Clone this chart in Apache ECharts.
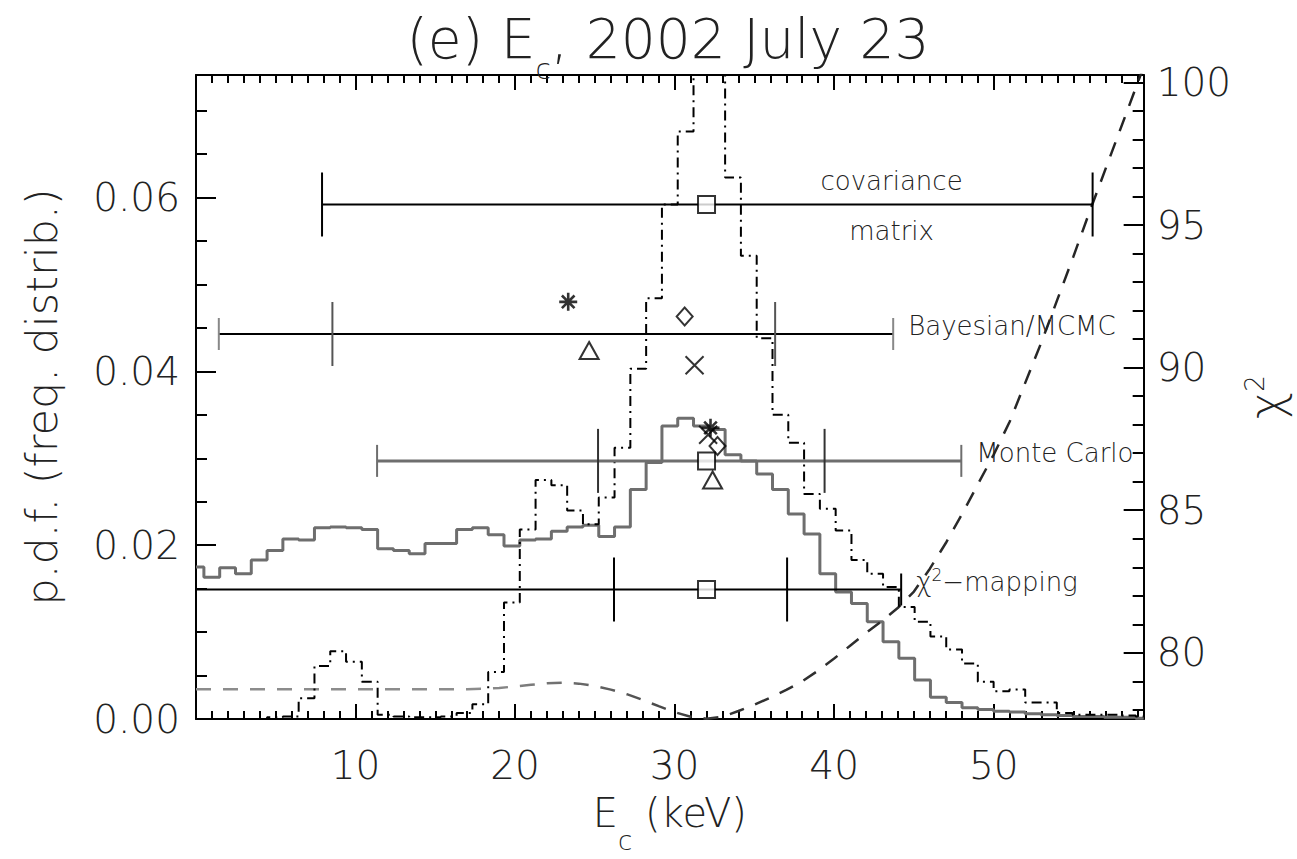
<!DOCTYPE html>
<html>
<head>
<meta charset="utf-8">
<title>E_c, 2002 July 23</title>
<script src="https://cdn.jsdelivr.net/npm/echarts@6/dist/echarts.min.js"></script>
<style>
  html, body { margin: 0; padding: 0; background: #fff; }
  #chart { width: 1297px; height: 859px; }
</style>
</head>
<body>
<div id="chart"></div>
<script>
// ---------------------------------------------------------------- data --

// Histogram bin width in keV; bin k is centred on k * BIN_WIDTH
const BIN_WIDTH = 0.99;

// Monte Carlo frequency distribution of E_c (gray solid histogram)
const mcPdf = [
  0.0175, 0.0163, 0.0174, 0.0167, 0.0183, 0.0194, 0.0207, 0.0206, 0.0220, 0.0221,
  0.0220, 0.0218, 0.0196, 0.0194, 0.0190, 0.0202, 0.0202, 0.0218, 0.0220, 0.0212,
  0.0199, 0.0206, 0.0207, 0.0216, 0.0221, 0.0223, 0.0210, 0.0221, 0.0264, 0.0295,
  0.0337, 0.0346, 0.0337, 0.0333, 0.0304, 0.0297, 0.0282, 0.0264, 0.0236, 0.0213,
  0.0167, 0.0146, 0.0133, 0.0112, 0.0089, 0.0070, 0.0045, 0.0025, 0.0019, 0.0013,
  0.0011, 0.0009, 0.0008, 0.0006, 0.0005, 0.0004, 0.0003, 0.0003, 0.0002, 0.0002,
  0.0001
];

// Bayesian / MCMC posterior of E_c (dash-dot histogram)
const mcmcPdf = [
  0, 0, 0, 0, 0, 0.0002, 0.0003, 0.0024, 0.0061, 0.0078,
  0.0066, 0.0043, 0.0005, 0.0003, 0.0002, 0.0002, 0.0003, 0.0007, 0.0017, 0.0054,
  0.0134, 0.0218, 0.0275, 0.0269, 0.0240, 0.0224, 0.0255, 0.0312, 0.0403, 0.0484,
  0.0592, 0.0676, 0.0830, 0.0790, 0.0623, 0.0533, 0.0438, 0.0350, 0.0318, 0.0259,
  0.0242, 0.0217, 0.0183, 0.0167, 0.0152, 0.0129, 0.0112, 0.0095, 0.0080, 0.0064,
  0.0043, 0.0032, 0.0034, 0.0019, 0.0019, 0.0007, 0.0005, 0.0005, 0.0005, 0.0004,
  0.0003
];

// chi^2 profile as a function of E_c (right axis)
const chi2Ec = [
  0, 17, 18, 19, 20, 21, 22, 23, 24, 25, 26, 27, 28, 29, 30, 31, 32, 33, 34, 35,
  36, 37, 38, 39, 40, 41, 42, 43, 44, 45, 46, 47, 48, 49, 50, 51, 52, 53, 54, 55,
  56, 57, 58, 59, 60
];
const chi2Val = [
  78.72, 78.72, 78.74, 78.77, 78.82, 78.88, 78.93, 78.95, 78.92, 78.84,
  78.71, 78.55, 78.35, 78.13, 77.92, 77.76, 77.69, 77.76, 77.96, 78.18,
  78.43, 78.70, 79.00, 79.38, 79.80, 80.25, 80.70, 81.12, 81.58, 82.15,
  82.95, 83.85, 84.85, 85.90, 86.95, 88.10, 89.50, 90.90, 92.40, 93.90,
  95.45, 96.95, 98.45, 99.95, 101.45
];

// Confidence intervals of E_c from the four methods
const barLabels = [['covariance', 'matrix'], 'Bayesian/MCMC', 'Monte Carlo', '{a|\u03c7}{b|2}{a|\u2212mapping}'];
const barY    = [0.0592, 0.0443, 0.0297, 0.0149];
const barBest = [32.0, null, 32.0, 32.0];
const barLo68 = [7.9, 8.55, 25.2, 26.2];
const barHi68 = [56.2, 36.3, 39.4, 37.05];
const barLo95 = [null, 1.43, 11.35, 0];
const barHi95 = [null, 43.7, 47.97, 44.2];

// Point estimates from the alternative fits
const starPts     = [[23.33, 0.0480], [32.25, 0.0335]];
const crossPts    = [[31.25, 0.0407], [32.10, 0.0327]];
const diamondPts  = [[30.63, 0.0463], [32.69, 0.0314]];
const trianglePts = [[24.64, 0.0424], [32.38, 0.0275]];

// Axis ranges and tick values
const X_MAX = 59.4;
const PDF_MAX = 0.0741;
const CHI2_MIN = 77.68, CHI2_MAX = 100.26;
const xMajorTicks = [10, 20, 30, 40, 50];
const pdfTicks = [0, 0.02, 0.04, 0.06];
const chi2Ticks = [80, 85, 90, 95, 100];

// ------------------------------------------------------------- styling --
const TEXT = '#222';
const FONT = '"DejaVu Sans", "Liberation Sans", sans-serif';
const WEIGHT = 200;

const xMinorTicks = [], pdfMinorTicks = [], chi2MinorTicks = [];
for (let v = 1; v < 60; v++) if (v % 10) xMinorTicks.push(v);
for (let k = 1; k * 0.005 < PDF_MAX; k++) if (k % 4) pdfMinorTicks.push(k * 0.005);
for (let v = 78; v <= 100; v++) if (v % 5) chi2MinorTicks.push(v);

const barStyle = [
  { line: '#000', width: 2, tick: '#000', cap: '#000' },
  { line: '#000', width: 2, tick: '#555', cap: '#888' },
  { line: '#6e6e6e', width: 3, tick: '#333', cap: '#6e6e6e' },
  { line: '#000', width: 2, tick: '#000', cap: '#000' }
];

const histPoints = vals => vals.map((v, k) => [k * BIN_WIDTH, v]);
const chi2Points = chi2Ec.map((x, i) => [x, chi2Val[i]]);

function axisFrame(type, position, ticks, len, showLine, extra) {
  const range = type === 'x'
    ? { min: 0, max: X_MAX }
    : (position === 'left' ? { min: 0, max: PDF_MAX } : { min: CHI2_MIN, max: CHI2_MAX });
  return Object.assign({
    type: 'value',
    position: position,
    gridIndex: 0,
    splitLine: { show: false },
    axisLine: { show: showLine, onZero: false, lineStyle: { color: '#000', width: 2 } },
    axisTick: { show: true, inside: true, length: len, customValues: ticks,
                lineStyle: { color: '#000', width: 2 } },
    axisLabel: { show: false },
    minorTick: { show: false }
  }, range, extra || {});
}

const font = (size, more) => Object.assign(
  { fontFamily: FONT, fontWeight: WEIGHT, color: TEXT, fontSize: size }, more || {});
const labelStyle = font(39);

const xAxis = [
  axisFrame('x', 'bottom', xMajorTicks, 15, true, {
    axisLabel: Object.assign({ show: true, customValues: xMajorTicks, margin: 27 }, labelStyle),
    name: '{m|E}{sub|c}{m| (keV)}',
    nameLocation: 'middle',
    nameGap: 74,
    nameTextStyle: font(40, {
      rich: {
        m: font(40, { lineHeight: 46, verticalAlign: 'top' }),
        sub: font(26, { lineHeight: 26, verticalAlign: 'top', padding: [35, 0, 0, 0] })
      }
    })
  }),
  axisFrame('x', 'top', xMajorTicks, 15, true),
  axisFrame('x', 'bottom', xMinorTicks, 8, false),
  axisFrame('x', 'top', xMinorTicks, 8, false)
];

const yAxis = [
  axisFrame('y', 'left', pdfTicks, 20, true, {
    axisLabel: Object.assign({ show: true, customValues: pdfTicks, margin: 16,
                               formatter: v => v.toFixed(2) }, labelStyle),
    name: 'p.d.f. (freq. distrib.)',
    nameLocation: 'middle',
    nameGap: 133,
    nameRotate: 90,
    nameTextStyle: font(43)
  }),
  axisFrame('y', 'right', chi2Ticks, 20, true, {
    axisLabel: Object.assign({ show: true, customValues: chi2Ticks, margin: 13,
                               formatter: v => String(Math.round(v)) }, labelStyle),
    name: '{a|\u03c7}{b|2}',
    nameLocation: 'middle',
    nameGap: 95,
    nameRotate: 90,
    nameTextStyle: font(44, {
      rich: {
        a: font(46, { lineHeight: 48 }),
        b: font(26, { lineHeight: 48, verticalAlign: 'top' })
      }
    })
  }),
  axisFrame('y', 'left', pdfMinorTicks, 11, false),
  axisFrame('y', 'right', chi2MinorTicks, 11, false)
];

// Horizontal interval bars with tall inner ticks and short outer caps
function errorBarItem(params, api) {
  const i = params.dataIndex;
  const y = barY[i];
  const st = barStyle[i];
  const ends = [barLo95[i], barLo68[i], barHi68[i], barHi95[i]].filter(v => v !== null);
  const xl = Math.min.apply(null, ends), xr = Math.max.apply(null, ends);
  const a = api.coord([xl, y]), b = api.coord([xr, y]);
  const kids = [{
    type: 'line', shape: { x1: a[0], y1: a[1], x2: b[0], y2: b[1] },
    style: { stroke: st.line, lineWidth: st.width }
  }];
  function tick(v, half, color) {
    if (v === null) return;
    const p = api.coord([v, y]);
    kids.push({ type: 'line', shape: { x1: p[0], y1: p[1] - half, x2: p[0], y2: p[1] + half },
                style: { stroke: color, lineWidth: 2 } });
  }
  tick(barLo95[i], 16, st.cap);
  tick(barHi95[i], 16, st.cap);
  tick(barLo68[i], 32, st.tick);
  tick(barHi68[i], 32, st.tick);

  const lab = barLabels[i];
  const baseFont = { fontFamily: FONT, fontWeight: WEIGHT, fontSize: 26, fill: TEXT };
  if (Array.isArray(lab)) {
    const m = api.coord([(barBest[i] + barHi68[i]) / 2, y]);
    kids.push({ type: 'text', x: m[0] - 8, y: m[1] - 23,
                style: Object.assign({ text: lab[0], align: 'center', verticalAlign: 'middle' }, baseFont) });
    kids.push({ type: 'text', x: m[0] - 8, y: m[1] + 27,
                style: Object.assign({ text: lab[1], align: 'center', verticalAlign: 'middle' }, baseFont) });
  } else {
    kids.push({
      type: 'text', x: b[0] + 15, y: b[1] - 8,
      style: Object.assign({
        text: lab, align: 'left', verticalAlign: 'middle',
        rich: {
          a: Object.assign({ lineHeight: 30 }, baseFont),
          b: Object.assign({}, baseFont, { fontSize: 17, lineHeight: 30, verticalAlign: 'top' })
        }
      }, baseFont)
    });
  }
  return { type: 'group', children: kids };
}

const openMarker = { color: 'rgba(255,255,255,0)', borderColor: '#000', borderWidth: 2 };

const option = {
  backgroundColor: '#fff',
  animation: false,
  title: {
    text: '{m|(e) E}{sub|c}{m|, 2002 July 23}',
    left: 668,
    top: 11,
    textAlign: 'center',
    padding: 0,
    textStyle: font(55, {
      rich: {
        m: font(55, { lineHeight: 60, verticalAlign: 'top' }),
        sub: font(28, { lineHeight: 28, verticalAlign: 'top', padding: [44, 0, 0, 0] })
      }
    })
  },
  grid: { left: 196, right: 150, top: 75, bottom: 136, containLabel: false },
  xAxis: xAxis,
  yAxis: yAxis,
  series: [
    {
      name: 'Monte Carlo', type: 'line', step: 'middle', showSymbol: false, z: 2,
      data: histPoints(mcPdf),
      lineStyle: { color: '#6e6e6e', width: 3 }
    },
    {
      name: 'Bayesian/MCMC', type: 'line', step: 'middle', showSymbol: false, z: 3,
      data: histPoints(mcmcPdf),
      lineStyle: { color: '#000', width: 2, type: [10, 5, 2, 5] }
    },
    {
      name: 'chi2', type: 'line', yAxisIndex: 1, showSymbol: false, z: 2,
      data: chi2Points,
      lineStyle: {
        width: 2.5, type: [15, 12],
        color: new echarts.graphic.LinearGradient(0, 0, 1, 0, [
          { offset: 0, color: '#8c8c8c' },
          { offset: 0.3, color: '#8c8c8c' },
          { offset: 0.55, color: '#333' },
          { offset: 1, color: '#222' }
        ])
      }
    },
    {
      name: 'intervals', type: 'custom', z: 4, clip: true,
      renderItem: errorBarItem,
      data: barY.map((y, i) => [i])
    },
    {
      name: 'best', type: 'scatter', z: 5, symbol: 'rect', symbolSize: 17,
      data: barBest.map((x, i) => [x, barY[i]]).filter(p => p[0] !== null),
      itemStyle: { color: '#fff', borderColor: '#000', borderWidth: 2 }
    },
    {
      name: 'star', type: 'scatter', z: 5, symbolSize: 18,
      symbol: 'path://M5,0L5,10M0,5L10,5M1.5,1.5L8.5,8.5M8.5,1.5L1.5,8.5',
      data: starPts, itemStyle: Object.assign({}, openMarker, { borderWidth: 2.6 })
    },
    {
      name: 'cross', type: 'scatter', z: 5, symbolSize: 18,
      symbol: 'path://M0,0L10,10M10,0L0,10',
      data: crossPts, itemStyle: openMarker
    },
    {
      name: 'diamond', type: 'scatter', z: 5, symbol: 'diamond', symbolSize: [16, 18],
      data: diamondPts, itemStyle: openMarker
    },
    {
      name: 'triangle', type: 'scatter', z: 5, symbol: 'triangle', symbolSize: [19, 17],
      data: trianglePts, itemStyle: openMarker
    }
  ]
};

const chart = echarts.init(document.getElementById('chart'), null, { renderer: 'svg' });
chart.setOption(option);
</script>
</body>
</html>
